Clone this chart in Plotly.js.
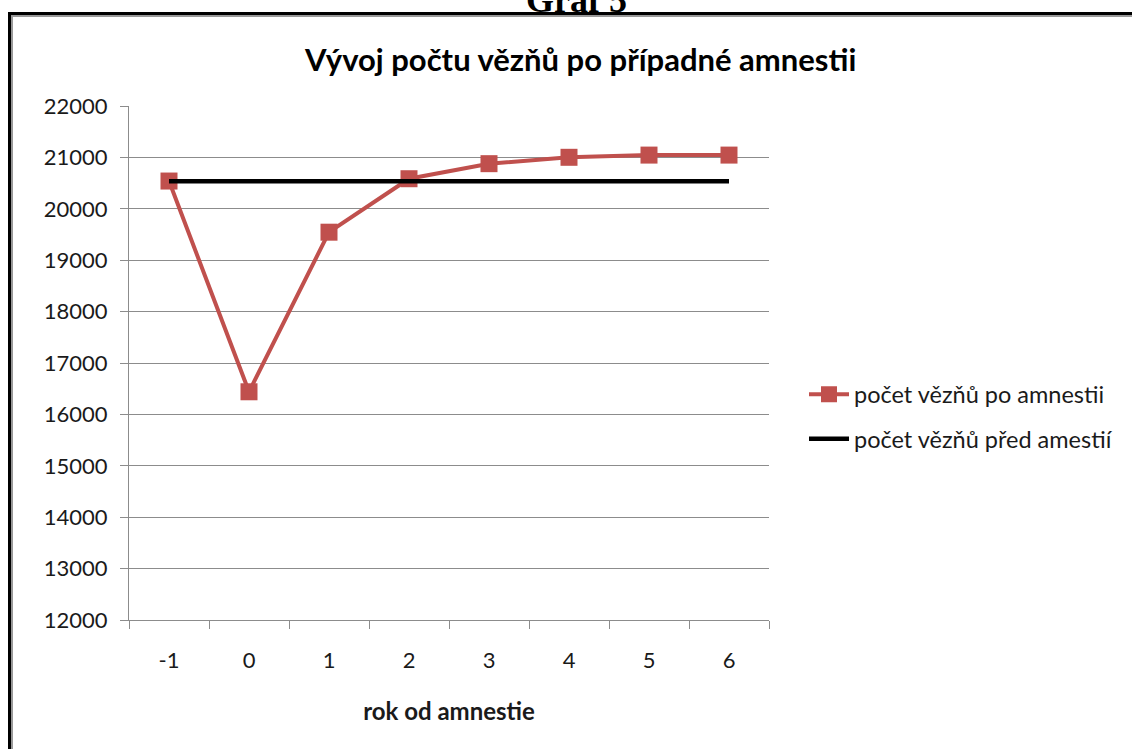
<!DOCTYPE html>
<html>
<head>
<meta charset="utf-8">
<script src="https://cdn.plot.ly/plotly-3.0.1.min.js"></script>
<style>
  html, body { margin: 0; padding: 0; background: #fff; }
  #chart { width: 1132px; height: 749px; }
</style>
</head>
<body>
<div id="chart"></div>
<script>
// Data
const years = ['-1', '0', '1', '2', '3', '4', '5', '6'];
const afterAmnesty = [20540, 16440, 19545, 20585, 20878, 21002, 21045, 21045];
const beforeAmnesty = [20535, 20535, 20535, 20535, 20535, 20535, 20535, 20535];
const yTicks = [12000, 13000, 14000, 15000, 16000, 17000, 18000, 19000, 20000, 21000, 22000];

const seriesNames = ['počet vězňů po amnestii', 'počet vězňů před amestií'];
const chartTitle = 'Vývoj počtu vězňů po případné amnestii';
const xTitle = 'rok od amnestie';
const headerText = 'Graf 5';

const FONT = 'Lato, "Open Sans", sans-serif';

// plot area in pixels: left 129, right 769, top 106, bottom 620
const L = 129, R = 769, T = 106, B = 620;
const px = x => (x - L) / (R - L);
const py = y => (B - y) / (B - T);

const traces = [
  {
    type: 'scatter', mode: 'lines+markers',
    x: years, y: afterAmnesty, name: seriesNames[0],
    legendgroup: 'a',
    line: { color: '#c0504d', width: 4 },
    marker: { symbol: 'square', size: 17, color: '#c0504d' }
  },
  {
    type: 'scatter', mode: 'lines',
    x: years, y: beforeAmnesty, name: seriesNames[1],
    legendgroup: 'b',
    line: { color: '#000000', width: 4.5 }
  }
];

const layout = {
  width: 1132, height: 749,
  margin: { l: L, r: 1132 - R, t: T, b: 749 - B, autoexpand: false },
  paper_bgcolor: '#ffffff', plot_bgcolor: '#ffffff',
  font: { family: FONT, color: '#1a1a1a', size: 22 },
  showlegend: true,
  legend: {
    x: px(804), xanchor: 'left', y: py(417), yanchor: 'middle',
    font: { family: FONT, size: 23.5, color: '#1a1a1a' },
    tracegroupgap: 11, traceorder: 'grouped',
    bgcolor: 'rgba(0,0,0,0)', itemwidth: 40
  },
  xaxis: {
    type: 'category',
    categoryorder: 'array', categoryarray: years,
    range: [-0.5, years.length - 0.5],
    showgrid: false, zeroline: false,
    showline: true, linecolor: '#8c8c8c', linewidth: 1,
    ticks: 'outside', tickson: 'boundaries', ticklen: 8, tickcolor: '#8c8c8c',
    tickfont: { family: FONT, size: 22, color: '#1a1a1a' },
    ticklabelstandoff: 21,
    title: { text: '<b>' + xTitle + '</b>', font: { family: FONT, size: 24, color: '#1a1a1a' }, standoff: 30 },
    automargin: false,
    fixedrange: true
  },
  yaxis: {
    range: [12000, 22000],
    tickvals: yTicks, ticktext: yTicks.map(String),
    showgrid: true, gridcolor: '#8c8c8c', gridwidth: 1,
    zeroline: false,
    showline: true, linecolor: '#8c8c8c', linewidth: 1,
    ticks: 'outside', ticklen: 8, tickcolor: '#8c8c8c',
    tickfont: { family: FONT, size: 22, color: '#1a1a1a' },
    ticklabelstandoff: 8,
    automargin: false,
    fixedrange: true
  },
  annotations: [
    {
      xref: 'paper', yref: 'paper', x: px(580), y: py(59),
      xanchor: 'center', yanchor: 'middle', showarrow: false,
      text: '<b>' + chartTitle + '</b>',
      font: { family: FONT, size: 31, color: '#000000' }
    },
    {
      xref: 'paper', yref: 'paper', x: px(576), y: py(0),
      xanchor: 'center', yanchor: 'middle', showarrow: false,
      text: '<b>' + headerText + '</b>',
      font: { family: '"Liberation Serif", "Times New Roman", serif', size: 36, color: '#000000' }
    }
  ],
  shapes: [
    // outer frame: black with gray inner shadow
    { type: 'line', xref: 'paper', yref: 'paper', x0: px(9), x1: px(1140), y0: py(13.5), y1: py(13.5), line: { color: '#000000', width: 3 } },
    { type: 'line', xref: 'paper', yref: 'paper', x0: px(11), x1: px(1140), y0: py(16), y1: py(16), line: { color: '#999999', width: 2 } },
    { type: 'line', xref: 'paper', yref: 'paper', x0: px(9.5), x1: px(9.5), y0: py(12), y1: py(760), line: { color: '#000000', width: 3 } },
    { type: 'line', xref: 'paper', yref: 'paper', x0: px(12), x1: px(12), y0: py(15), y1: py(760), line: { color: '#999999', width: 2 } }
  ]
};

Plotly.newPlot('chart', traces, layout, { displayModeBar: false, staticPlot: true });
</script>
</body>
</html>
